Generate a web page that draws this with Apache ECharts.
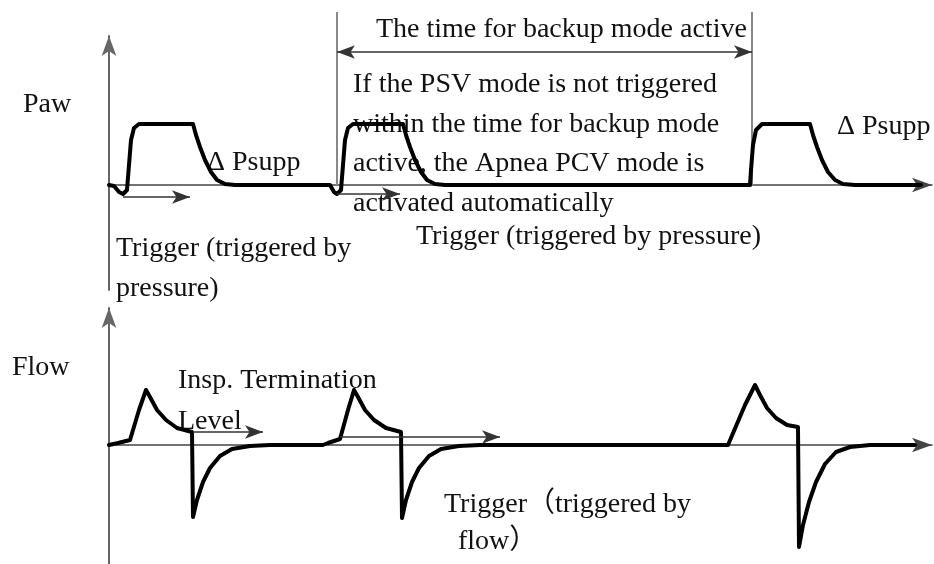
<!DOCTYPE html>
<html lang="en">

<head>
    <meta charset="UTF-8" />
    <title>PSV backup mode</title>
    <script src="https://cdn.jsdelivr.net/npm/echarts@6/dist/echarts.js"></script>
    <style>
        html, body { margin: 0; padding: 0; background: #fff; }
        #lienzo { width: 934px; height: 564px; }
    </style>
</head>

<body>
    <div id="lienzo"></div>

    <script>
        // time (s) , value
        let pawPoints = [
            [0, 0], [0.05, -0.2], [0.10, -1.4], [0.14, -1.8], [0.18, -1.0], [0.20, 4], [0.22, 9],
            [0.25, 11.4], [0.30, 12.2], [0.84, 12.2], [0.87, 10], [0.91, 7.6], [0.96, 5],
            [1.02, 2.6], [1.08, 1], [1.16, 0.2], [1.26, 0],
            [2.21, 0], [2.22, -0.2], [2.25, -1.4], [2.28, -1.8], [2.32, -1.0], [2.34, 4], [2.36, 9],
            [2.39, 11.4], [2.44, 12.2], [2.94, 12.2], [2.97, 10], [3.01, 7.6], [3.06, 5],
            [3.12, 2.6], [3.18, 1], [3.26, 0.2], [3.36, 0],
            [6.41, 0], [6.42, 3], [6.44, 8], [6.47, 11], [6.53, 12.2], [7.01, 12.2], [7.04, 10],
            [7.08, 7.6], [7.13, 5], [7.19, 2.6], [7.26, 1], [7.34, 0.2], [7.46, 0], [8.12, 0]
        ];
        let flowPoints = [
            [0, 0], [0.09, 0.4], [0.21, 1], [0.30, 7], [0.37, 11], [0.41, 9.6], [0.48, 7],
            [0.57, 5], [0.68, 3.4], [0.83, 2.6], [0.84, -14.4], [0.88, -11], [0.94, -7.4],
            [1.01, -4.6], [1.11, -2.2], [1.23, -0.8], [1.41, -0.2], [1.61, 0],
            [2.14, 0], [2.19, 0.4], [2.31, 1.2], [2.39, 7], [2.45, 11], [2.49, 9.6], [2.56, 7],
            [2.65, 5], [2.77, 3.4], [2.92, 2.6], [2.93, -14.6], [2.97, -11], [3.03, -7.4],
            [3.10, -4.6], [3.20, -2.2], [3.32, -0.8], [3.50, -0.2], [3.71, 0],
            [6.19, 0], [6.36, 8], [6.46, 12], [6.51, 10], [6.58, 7.4], [6.67, 5.4], [6.78, 4],
            [6.89, 3.6], [6.90, -20.4], [6.94, -16], [7.00, -11.4], [7.07, -7.4], [7.16, -3.8],
            [7.27, -1.4], [7.41, -0.4], [7.61, 0], [8.06, 0]
        ];

        // annotation arrows [from, to]
        let pawTriggerArrows = [
            [[0.14, -2.4], [0.81, -2.4]],
            [[2.28, -1.8], [2.91, -1.8]]
        ];
        let backupWindow = [2.28, 6.43];
        let backupArrowLevel = 26.6;
        let backupLineTop = 34.6;
        let flowArrows = [
            [[0.84, 2.6], [1.54, 2.6]],
            [[2.31, 1.6], [3.91, 1.6]]
        ];

        let serif = '"Liberation Serif", "Times New Roman", "Noto Sans CJK SC", serif';
        let labels = [
            { text: 'Paw', x: 23, y: 105 },
            { text: 'Flow', x: 12, y: 368 },
            { text: 'The time for backup mode active', x: 376, y: 30 },
            { text: 'If the PSV mode is not triggered', x: 353, y: 85 },
            { text: 'within the time for backup mode', x: 353, y: 125 },
            { text: 'active, the Apnea PCV mode is', x: 353, y: 164 },
            { text: 'activated automatically', x: 353, y: 204 },
            { text: 'Trigger (triggered by pressure)', x: 416, y: 237 },
            { text: 'Trigger (triggered by', x: 116, y: 249 },
            { text: 'pressure)', x: 116, y: 289 },
            { text: '\u0394 Psupp', x: 207, y: 163 },
            { text: '\u0394 Psupp', x: 837, y: 127 },
            { text: 'Insp. Termination', x: 178, y: 381 },
            { text: 'Level', x: 178, y: 422 },
            { text: 'Trigger\uff08triggered by', x: 444, y: 505 },
            { text: 'flow\uff09', x: 458, y: 542 }
        ];

        let arrowLine = (pairs) => pairs.map((p) => [
            { coord: p[0], symbol: 'none' },
            { coord: p[1], symbol: 'arrow' }
        ]);

        let xAxisBase = {
            type: 'value',
            min: 0,
            max: 8.23,
            axisLine: {
                onZero: true,
                symbol: ['none', 'arrow'],
                symbolSize: [11, 20],
                lineStyle: { color: '#444', width: 1.5 }
            },
            axisTick: { show: false },
            axisLabel: { show: false },
            splitLine: { show: false }
        };
        let yAxisBase = {
            type: 'value',
            axisLine: {
                show: true,
                onZero: false,
                symbol: ['none', 'arrow'],
                symbolSize: [11, 20],
                lineStyle: { color: '#666', width: 2 }
            },
            axisTick: { show: false },
            axisLabel: { show: false },
            splitLine: { show: false }
        };

        let backupLine = (t) => ({
            type: 'line',
            xAxisIndex: 0,
            yAxisIndex: 0,
            data: [[t, 0], [t, backupLineTop]],
            showSymbol: false,
            clip: false,
            silent: true,
            lineStyle: { color: '#888', width: 2 }
        });

        let myChart = echarts.init(document.getElementById('lienzo'));
        myChart.setOption({
            animation: false,
            backgroundColor: '#fff',
            grid: [
                { left: 109, right: 2, top: 36, bottom: 274 },
                { left: 109, right: 2, top: 308, bottom: 0 }
            ],
            xAxis: [
                Object.assign({ gridIndex: 0 }, xAxisBase),
                Object.assign({ gridIndex: 1 }, xAxisBase)
            ],
            yAxis: [
                Object.assign({ gridIndex: 0, min: -21, max: 29.8 }, yAxisBase),
                Object.assign({ gridIndex: 1, min: -23.8, max: 27.4 }, yAxisBase)
            ],
            series: [
                backupLine(backupWindow[0]),
                backupLine(backupWindow[1]),
                {
                    name: 'Paw',
                    type: 'line',
                    xAxisIndex: 0,
                    yAxisIndex: 0,
                    data: pawPoints,
                    showSymbol: false,
                    clip: false,
                    lineStyle: { color: '#000', width: 4, cap: 'round', join: 'round' },
                    markLine: {
                        silent: true,
                        symbolSize: [10, 18],
                        label: { show: false },
                        lineStyle: { color: '#333', width: 1.5, type: 'solid' },
                        data: arrowLine(pawTriggerArrows).concat([
                            [
                                { coord: [backupWindow[0], backupArrowLevel], symbol: 'arrow' },
                                { coord: [backupWindow[1], backupArrowLevel], symbol: 'arrow' }
                            ]
                        ])
                    }
                },
                {
                    name: 'Flow',
                    type: 'line',
                    xAxisIndex: 1,
                    yAxisIndex: 1,
                    data: flowPoints,
                    showSymbol: false,
                    clip: false,
                    lineStyle: { color: '#000', width: 4, cap: 'round', join: 'round' },
                    markLine: {
                        silent: true,
                        symbolSize: [10, 18],
                        label: { show: false },
                        lineStyle: { color: '#333', width: 1.5, type: 'solid' },
                        data: arrowLine(flowArrows)
                    }
                }
            ],
            graphic: labels.map((l) => ({
                type: 'text',
                x: l.x,
                y: l.y,
                silent: true,
                style: {
                    text: l.text,
                    font: '28px ' + serif,
                    fill: '#111',
                    verticalAlign: 'middle'
                }
            }))
        });
    </script>
</body>

</html>
